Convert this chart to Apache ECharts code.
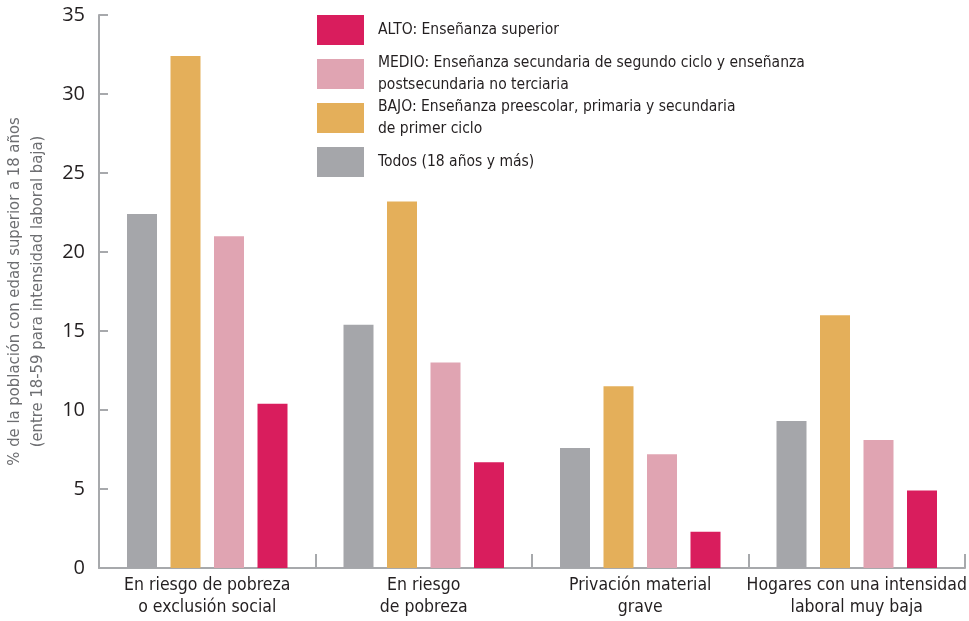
<!DOCTYPE html>
<html>
<head>
<meta charset="utf-8">
<script src="https://cdn.jsdelivr.net/npm/echarts@6/dist/echarts.min.js"></script>
<style>
  html, body { margin: 0; padding: 0; background: #fff; }
  #main { width: 969px; height: 621px; }
</style>
</head>
<body>
<div id="main"></div>
<script>
// categories (x axis)
var categories = [
  'En riesgo de pobreza\no exclusión social',
  'En riesgo\nde pobreza',
  'Privación material\ngrave',
  'Hogares con una intensidad\nlaboral muy baja'
];

// series, in bar order (left to right inside each group)
var todos = [22.4, 15.4, 7.6, 9.3];
var bajo  = [32.4, 23.2, 11.5, 16.0];
var medio = [21.0, 13.0, 7.2, 8.1];
var alto  = [10.4, 6.7, 2.3, 4.9];

var seriesNames = ['Todos', 'BAJO', 'MEDIO', 'ALTO'];
var legendLabels = {
  'ALTO': 'ALTO: Enseñanza superior',
  'MEDIO': 'MEDIO: Enseñanza secundaria de segundo ciclo y enseñanza\npostsecundaria no terciaria',
  'BAJO': 'BAJO: Enseñanza preescolar, primaria y secundaria\nde primer ciclo',
  'Todos': 'Todos (18 años y más)'
};
var yTicks = { min: 0, max: 35, interval: 5 };

var colors = {
  'Todos': '#a5a6aa',
  'BAJO': '#e4af5a',
  'MEDIO': '#e0a4b2',
  'ALTO': '#d91d5d'
};

var font = '"DejaVu Sans Condensed", sans-serif';
var textColor = '#231f20';

// one legend per entry so the two-line labels can sit like in the original
function makeLegend(name, top, padTop) {
  return {
    data: [name],
    orient: 'vertical',
    left: 317,
    top: top,
    padding: 0,
    icon: 'rect',
    itemWidth: 47,
    itemHeight: 30,
    selectedMode: false,
    formatter: function (n) { return legendLabels[n]; },
    textStyle: {
      fontFamily: font,
      fontSize: 15.5,
      lineHeight: 22,
      color: textColor,
      padding: [padTop, 0, 0, 9]
    }
  };
}

var data = [todos, bajo, medio, alto];
var series = seriesNames.map(function (n, i) {
  return {
    name: n,
    type: 'bar',
    data: data[i],
    barWidth: 30,
    barGap: '45%',
    itemStyle: { color: colors[n] }
  };
});

var chart = echarts.init(document.getElementById('main'), null, { renderer: 'canvas' });
chart.setOption({
  animation: false,
  color: seriesNames.map(function (n) { return colors[n]; }),
  legend: [
    makeLegend('ALTO', 15, 8),
    makeLegend('MEDIO', 48, 8),
    makeLegend('BAJO', 92, 8),
    makeLegend('Todos', 147, 0)
  ],
  grid: { left: 99, right: 4, top: 15, bottom: 53, outerBoundsMode: 'none' },
  xAxis: {
    type: 'category',
    data: categories,
    axisLine: { lineStyle: { color: '#a7a9ac', width: 2 } },
    axisTick: { show: true, inside: true, length: 14, lineStyle: { color: '#a7a9ac', width: 2 } },
    axisLabel: {
      interval: 0,
      margin: 6,
      fontFamily: font,
      fontSize: 17.5,
      lineHeight: 22,
      color: textColor
    }
  },
  yAxis: {
    type: 'value',
    min: yTicks.min,
    max: yTicks.max,
    interval: yTicks.interval,
    name: '% de la población con edad superior a 18 años\n(entre 18-59 para intensidad laboral baja)',
    nameLocation: 'middle',
    nameGap: 50,
    nameTextStyle: {
      fontFamily: font,
      fontSize: 16.5,
      lineHeight: 23,
      color: '#6d6e71'
    },
    splitLine: { show: false },
    axisLine: { show: true, lineStyle: { color: '#a7a9ac', width: 2 } },
    axisTick: { show: true, inside: true, length: 9, lineStyle: { color: '#a7a9ac', width: 2 } },
    axisLabel: {
      margin: 14,
      fontFamily: '"Open Sans", sans-serif',
      fontSize: 20,
      color: textColor
    }
  },
  series: series
});
</script>
</body>
</html>
